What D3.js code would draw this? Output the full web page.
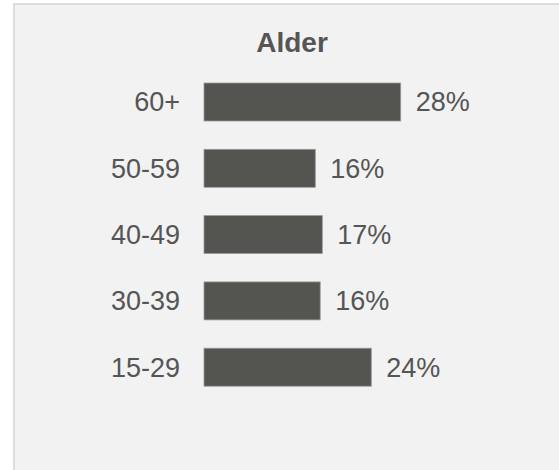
<!DOCTYPE html>
<html>
<head>
<meta charset="utf-8">
<script src="https://cdn.jsdelivr.net/npm/d3@7/dist/d3.min.js"></script>
<style>
  html, body { margin: 0; padding: 0; background: #fff; }
  svg { display: block; font-family: Arial, "Liberation Sans", sans-serif; }
</style>
</head>
<body>
<svg id="chart" width="559" height="470"></svg>
<script>
const title = "Alder";
const ageGroups = ["60+", "50-59", "40-49", "30-39", "15-29"];
const shares = [28.1, 15.9, 16.9, 16.6, 23.9];
const shareLabels = ["28%", "16%", "17%", "16%", "24%"];

const svg = d3.select("#chart");
const textColor = "#555555";

// panel
svg.append("rect")
  .attr("x", 14).attr("y", 4)
  .attr("width", 600).attr("height", 500)
  .attr("fill", "#f2f2f2")
  .attr("stroke", "#dcdcdc")
  .attr("stroke-width", 2);

svg.append("text")
  .attr("x", 292).attr("y", 52)
  .attr("text-anchor", "middle")
  .attr("font-size", 28)
  .attr("font-weight", "bold")
  .attr("fill", textColor)
  .text(title);

const x = d3.scaleLinear().domain([0, 30]).range([204, 414]);
const y = d3.scaleBand().domain(ageGroups).range([83, 386.2]).paddingInner(0.427).paddingOuter(0);

const rows = svg.append("g")
  .selectAll("g")
  .data(ageGroups)
  .join("g");

rows.append("rect")
  .attr("x", x(0))
  .attr("y", d => y(d))
  .attr("width", (d, i) => x(shares[i]) - x(0))
  .attr("height", y.bandwidth())
  .attr("fill", "#545551")
  .attr("stroke", "#9a9a98")
  .attr("stroke-width", 0.8);

rows.append("text")
  .attr("x", 180)
  .attr("y", d => y(d) + y.bandwidth() / 2)
  .attr("dy", "0.35em")
  .attr("text-anchor", "end")
  .attr("font-size", 27)
  .attr("fill", textColor)
  .text(d => d);

rows.append("text")
  .attr("x", (d, i) => x(shares[i]) + 15)
  .attr("y", d => y(d) + y.bandwidth() / 2)
  .attr("dy", "0.35em")
  .attr("font-size", 27)
  .attr("fill", textColor)
  .text((d, i) => shareLabels[i]);
</script>
</body>
</html>
